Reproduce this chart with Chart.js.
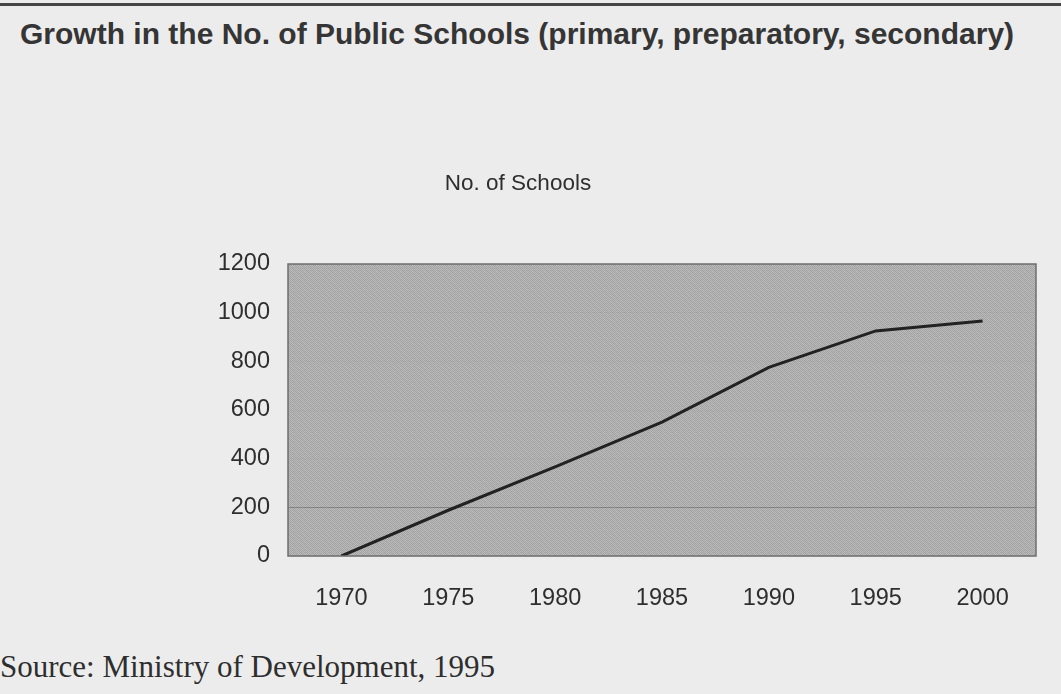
<!DOCTYPE html>
<html>
<head>
<meta charset="utf-8">
<script src="https://cdn.jsdelivr.net/npm/chart.js@4.4.1/dist/chart.umd.min.js"></script>
<style>
  html, body { margin: 0; padding: 0; width: 1061px; height: 694px; overflow: hidden; background: #ececec; }
  #rule { position: absolute; left: 0; top: 3px; width: 1061px; height: 3px; background: #454545; }
  #heading { position: absolute; left: 20px; top: 17px; font: bold 30px "Liberation Sans", Arial, sans-serif; color: #353535; white-space: nowrap; }
  #chartBox { position: absolute; left: 0; top: 150px; width: 1061px; height: 466px; }
  #source { position: absolute; left: 0; top: 649px; font: 31px "Liberation Serif", "Times New Roman", serif; color: #2e2e2e; white-space: nowrap; }
</style>
</head>
<body>
<div id="rule"></div>
<div id="heading">Growth in the No. of Public Schools (primary, preparatory, secondary)</div>
<div id="chartBox"><canvas id="grafico"></canvas></div>
<div id="source">Source: Ministry of Development, 1995</div>

<script>
// years and number of public schools
const years = ["1970", "1975", "1980", "1985", "1990", "1995", "2000"];
const schools = [0, 188, 366, 550, 775, 925, 966];
const yTicks = [0, 200, 400, 600, 800, 1000, 1200];

const textColor = "#2e2e2e";
const tickFont = { family: "'Liberation Sans', Arial, sans-serif", size: 23.5 };

// halftone-ish grey fill for the plot area
function makeFill() {
    const c = document.createElement("canvas");
    c.width = 6; c.height = 6;
    const g = c.getContext("2d");
    const shades = [
        ["#9e9e9e", "#b8b8b8", "#a6a6a6", "#bdbdbd", "#a2a2a2", "#b4b4b4"],
        ["#bbbbbb", "#a0a0a0", "#b6b6b6", "#a3a3a3", "#bfbfbf", "#a5a5a5"],
        ["#a8a8a8", "#bcbcbc", "#9d9d9d", "#b9b9b9", "#a7a7a7", "#bbbbbb"],
        ["#b7b7b7", "#a4a4a4", "#bebebe", "#a1a1a1", "#b5b5b5", "#9f9f9f"],
        ["#a3a3a3", "#b9b9b9", "#a5a5a5", "#bababa", "#9e9e9e", "#b8b8b8"],
        ["#bcbcbc", "#a2a2a2", "#b7b7b7", "#a6a6a6", "#bdbdbd", "#a4a4a4"]
    ];
    shades.forEach((row, y) => row.forEach((col, x) => {
        g.fillStyle = col;
        g.fillRect(x, y, 1, 1);
    }));
    return g.createPattern(c, "repeat");
}

const plotBackground = {
    id: "plotBackground",
    beforeDraw(chart) {
        const { ctx, chartArea: a } = chart;
        ctx.save();
        ctx.fillStyle = makeFill();
        ctx.fillRect(a.left, a.top, a.width, a.height);
        ctx.restore();
    },
    afterDraw(chart) {
        const { ctx, chartArea: a } = chart;
        ctx.save();
        ctx.strokeStyle = "#6e6e6e";
        ctx.lineWidth = 1.5;
        ctx.strokeRect(a.left, a.top, a.width, a.height);
        ctx.restore();
    }
};

new Chart(document.getElementById("grafico"), {
    type: "line",
    data: {
        labels: years,
        datasets: [{
            label: "No. of Schools",
            data: schools,
            borderColor: "#222222",
            borderWidth: 3,
            pointRadius: 0,
            tension: 0,
            fill: false
        }]
    },
    options: {
        responsive: true,
        maintainAspectRatio: false,
        animation: false,
        layout: { padding: { top: 20, right: 25, bottom: 0, left: 0 } },
        plugins: {
            legend: { display: false },
            tooltip: { enabled: false },
            title: {
                display: true,
                text: "No. of Schools",
                color: textColor,
                font: { family: "'Liberation Sans', Arial, sans-serif", size: 22.5, weight: "normal", lineHeight: 1.2 },
                padding: { top: 0, bottom: 67 }
            }
        },
        scales: {
            x: {
                offset: true,
                grid: { display: false, drawTicks: false },
                border: { display: false },
                ticks: { color: textColor, font: tickFont, padding: 28, maxRotation: 0 },
                afterFit(scale) { scale.height = 60; }
            },
            y: {
                min: 0,
                max: 1200,
                afterBuildTicks(scale) { scale.ticks = yTicks.map(v => ({ value: v })); },
                grid: {
                    drawTicks: false,
                    color: ctx => ctx.tick && ctx.tick.value === 200 ? "rgba(90,90,90,0.5)" : "rgba(140,140,140,0.12)",
                    lineWidth: 1
                },
                border: { display: false },
                ticks: { color: textColor, font: tickFont, padding: 18, callback: v => String(v) },
                afterFit(scale) { scale.width = 288; }
            }
        }
    },
    plugins: [plotBackground]
});
</script>
</body>
</html>
